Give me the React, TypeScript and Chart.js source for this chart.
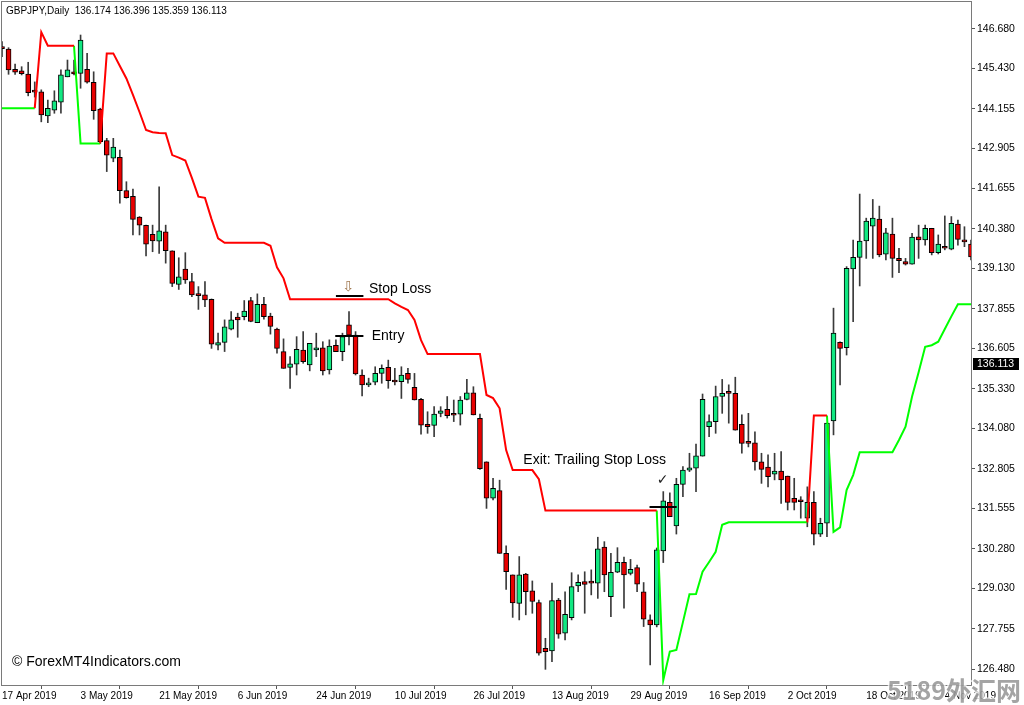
import React, { useEffect, useRef } from "react";
import { Chart, registerables } from "chart.js";

Chart.register(...registerables);

// ---- Daily GBPJPY candles (one entry per bar, left to right) ----
const OPEN = [
  146.09, 146.05, 145.41, 145.36, 145.26, 144.72, 144.70, 143.94, 144.12, 144.37,
  145.17, 145.33, 145.28, 145.41, 145.00, 144.15, 143.16, 142.60, 142.63, 141.58,
  141.40, 140.74, 140.48, 140.20, 139.98, 140.28, 139.68, 138.62, 139.10, 138.71,
  138.33, 138.29, 138.15, 136.70, 136.79, 137.21, 137.59, 137.60, 138.11, 137.41,
  137.99, 137.62, 137.21, 136.50, 136.00, 136.10, 136.55, 136.08, 136.55, 136.62,
  135.92, 136.70, 136.50, 137.34, 137.02, 135.76, 135.45, 135.53, 135.81, 136.00,
  135.60, 135.55, 135.81, 135.37, 134.99, 134.20, 134.17, 134.55, 134.68, 134.53,
  134.52, 134.99, 135.20, 134.39, 133.02, 131.87, 132.11, 130.13, 129.45, 128.55,
  129.48, 128.95, 128.58, 127.13, 127.05, 128.66, 127.61, 128.10, 129.10, 129.24,
  129.24, 129.19, 130.33, 128.76, 129.54, 129.85, 129.50, 129.68, 128.92, 128.03,
  127.87, 130.21, 131.74, 131.00, 132.31, 132.76, 132.82, 133.20, 134.13, 134.29,
  135.08, 135.20, 135.18, 134.20, 133.64, 133.62, 133.02, 132.85, 132.63, 132.73,
  132.57, 131.87, 131.78, 131.24, 131.74, 130.74, 131.08, 134.31, 136.79, 136.62,
  139.11, 139.47, 139.99, 140.46, 140.68, 139.57, 140.21, 139.44, 139.34, 139.26,
  140.12, 140.02, 140.39, 139.62, 139.79, 139.73, 140.52, 139.99, 139.89,
];
const HIGH = [
  146.28, 146.09, 145.57, 145.49, 145.63, 145.01, 144.76, 144.44, 144.73, 145.39,
  145.70, 145.70, 146.49, 145.91, 145.33, 144.18, 143.23, 143.23, 142.86, 141.86,
  141.63, 140.76, 140.49, 140.49, 141.70, 140.49, 139.68, 139.46, 139.62, 138.97,
  138.55, 138.71, 138.16, 137.08, 137.50, 137.76, 137.71, 138.11, 138.21, 138.32,
  138.21, 137.71, 137.24, 136.90, 136.34, 136.97, 137.13, 136.76, 137.08, 136.81,
  136.87, 136.87, 137.08, 137.76, 137.13, 135.92, 135.66, 136.02, 136.08, 136.23,
  135.97, 136.02, 135.97, 135.81, 135.02, 134.60, 134.76, 134.76, 135.08, 134.97,
  135.08, 135.62, 135.39, 134.53, 133.02, 132.50, 132.44, 130.37, 129.45, 130.03,
  129.50, 129.26, 128.66, 127.45, 129.19, 128.71, 128.92, 129.52, 129.45, 129.55,
  129.61, 130.64, 130.50, 130.13, 130.31, 130.01, 129.94, 129.76, 129.21, 128.19,
  130.30, 132.08, 132.04, 132.50, 132.87, 133.29, 133.58, 135.16, 134.50, 135.41,
  135.62, 135.45, 135.69, 134.50, 134.55, 133.97, 133.29, 133.24, 133.29, 133.34,
  132.57, 132.50, 131.92, 132.23, 132.08, 131.24, 134.24, 137.87, 136.81, 139.18,
  140.02, 141.47, 140.71, 141.30, 141.09, 140.39, 140.71, 139.76, 139.44, 140.23,
  140.49, 140.49, 140.39, 140.18, 140.78, 140.76, 140.65, 140.44, 140.02,
];
const LOW = [
  145.81, 145.25, 145.25, 145.23, 144.57, 144.53, 143.75, 143.72, 144.02, 144.02,
  145.17, 145.23, 144.81, 144.97, 143.83, 143.07, 142.18, 142.49, 141.18, 141.34,
  140.18, 140.18, 139.52, 139.65, 139.60, 139.29, 138.55, 138.46, 138.65, 138.23,
  137.83, 137.92, 136.60, 136.55, 136.50, 137.18, 136.95, 137.50, 137.44, 137.41,
  137.52, 137.05, 136.45, 135.97, 135.34, 135.76, 136.13, 135.89, 136.34, 135.76,
  135.79, 136.50, 136.21, 136.71, 135.76, 135.10, 135.39, 135.45, 135.50, 135.34,
  135.45, 135.02, 135.50, 134.97, 133.89, 133.92, 133.81, 134.44, 134.40, 134.29,
  134.18, 134.97, 134.50, 132.78, 131.55, 131.82, 130.13, 128.99, 128.11, 128.03,
  128.19, 128.24, 126.92, 126.47, 126.71, 127.45, 127.40, 128.03, 128.92, 128.24,
  128.82, 128.71, 128.92, 128.13, 129.52, 128.40, 129.45, 128.92, 127.82, 126.61,
  127.81, 129.84, 131.29, 130.74, 131.92, 132.71, 132.08, 133.20, 133.81, 133.92,
  134.55, 134.24, 134.02, 133.29, 133.49, 132.76, 132.34, 132.23, 132.45, 131.71,
  131.50, 131.50, 131.24, 130.97, 130.40, 130.66, 130.66, 133.87, 135.45, 136.39,
  137.44, 138.57, 139.44, 139.44, 139.49, 139.39, 138.84, 138.99, 139.23, 139.26,
  139.44, 139.86, 139.55, 139.58, 139.71, 139.71, 139.86, 139.81, 139.39,
];
const CLOSE = [
  146.06, 145.39, 145.32, 145.27, 144.67, 144.69, 143.97, 144.18, 144.41, 145.23,
  145.39, 145.26, 146.33, 145.00, 144.10, 143.12, 142.70, 142.95, 141.58, 141.36,
  140.67, 140.49, 139.89, 139.99, 140.31, 139.68, 138.65, 138.86, 138.76, 138.29,
  138.26, 138.13, 136.73, 136.78, 137.28, 137.50, 137.50, 137.78, 137.45, 137.99,
  137.60, 137.29, 136.60, 135.97, 136.11, 136.57, 136.18, 136.76, 136.62, 135.89,
  136.67, 136.50, 136.97, 137.02, 135.79, 135.45, 135.50, 135.81, 135.97, 135.58,
  135.54, 135.76, 135.62, 134.97, 134.18, 134.13, 134.53, 134.63, 134.48, 134.49,
  134.97, 135.20, 134.50, 132.80, 131.87, 132.18, 130.13, 129.55, 128.57, 129.45,
  128.92, 128.61, 126.98, 127.03, 128.64, 127.58, 128.21, 129.08, 129.22, 129.15,
  129.19, 130.27, 129.45, 129.53, 129.85, 129.45, 129.63, 129.16, 128.05, 127.87,
  130.24, 131.79, 131.29, 132.31, 132.76, 132.83, 133.21, 134.99, 134.29, 135.08,
  135.18, 135.18, 134.02, 133.60, 133.60, 133.02, 132.78, 132.55, 132.73, 132.45,
  131.74, 131.74, 131.76, 131.74, 130.74, 131.08, 134.24, 137.08, 136.60, 139.13,
  139.47, 139.99, 140.62, 140.71, 139.55, 140.25, 139.44, 139.37, 139.26, 140.11,
  140.02, 140.39, 139.62, 139.89, 139.76, 140.55, 140.04, 139.96, 139.49,
];

// ---- Trailing-stop indicator: runs of values, each starting at a bar index ----
const RED_STOP_RUNS = [
  { from: 5, values: [144.18, 146.58, 146.15, 146.15, 146.15, 146.15, 146.15] },
  {
    from: 15,
    values: [
      143.07, 145.91, 145.91, 145.51, 145.12, 144.60, 144.06, 143.49, 143.42, 143.40,
      143.39, 142.70, 142.62, 142.53, 141.98, 141.39, 141.35, 140.68, 140.07,
      139.93, 139.93, 139.93, 139.93, 139.93, 139.93, 139.93,
      139.84, 139.16, 138.81,
      138.15, 138.15, 138.15, 138.15, 138.15, 138.15, 138.15, 138.15,
      138.15, 138.15, 138.15, 138.15, 138.15, 138.15, 138.15, 138.15,
      138.02, 137.91, 137.81, 137.50, 136.86,
      136.42, 136.42, 136.42, 136.42, 136.42, 136.42, 136.42, 136.42, 136.42,
      135.13, 135.03, 134.71, 133.39,
      132.76, 132.76, 132.76, 132.76,
      132.47,
      131.48, 131.48, 131.48, 131.48, 131.48, 131.48, 131.48, 131.48, 131.48,
      131.48, 131.48, 131.48, 131.48, 131.48, 131.48, 131.48, 131.48, 131.48,
    ],
  },
  { from: 123, values: [131.11, 134.48, 134.48, 134.48] },
];
const GREEN_STOP_RUNS = [
  { from: 0, values: [144.18, 144.18, 144.18, 144.18, 144.18, 144.18] },
  { from: 11, values: [146.15, 143.07, 143.07, 143.07, 143.07] },
  {
    from: 100,
    values: [
      131.48, 126.13, 127.03, 127.08, 127.96, 128.84, 128.85, 129.55, 129.86, 130.18, 131.03,
      131.11, 131.11, 131.11, 131.11, 131.11, 131.11, 131.11, 131.11, 131.11, 131.11,
      131.11, 131.11, 131.11,
    ],
  },
  {
    from: 126,
    values: [
      134.48, 130.81, 130.95, 132.13, 132.60,
      133.32, 133.32, 133.32, 133.32, 133.32, 133.32,
      133.71, 134.13, 135.08, 135.85, 136.65, 136.70, 136.81, 137.21, 137.61,
      137.99, 137.99, 137.99,
    ],
  },
];

// ---- Axis labels ----
const DATE_LABELS = [
  "17 Apr 2019", "3 May 2019", "21 May 2019", "6 Jun 2019", "24 Jun 2019",
  "10 Jul 2019", "26 Jul 2019", "13 Aug 2019", "29 Aug 2019", "16 Sep 2019",
  "2 Oct 2019", "18 Oct 2019", "4 Nov 2019",
];
const DATE_STEP = 12;
const PRICE_TICKS = [
  146.68, 145.43, 144.155, 142.905, 141.655, 140.38, 139.13, 137.855, 136.605,
  135.33, 134.08, 132.805, 131.555, 130.28, 129.03, 127.755, 126.48,
];
const Y_MIN = 125.976;
const Y_MAX = 147.532;

const TITLE = "GBPJPY,Daily  136.174 136.396 135.359 136.113";
const LAST_PRICE = 136.113;
const COPYRIGHT = "\u00A9 ForexMT4Indicators.com";
const WATERMARK = "5189外汇网";

// ---- Trade annotations (bar index, price) ----
const MARK_LINES = [
  { from: 51, to: 55.2, price: 138.25 },
  { from: 50.9, to: 55.2, price: 137.0 },
  { from: 98.9, to: 103.05, price: 131.6 },
];
const MARK_TEXTS = [
  { at: 56.05, price: 138.48, text: "Stop Loss" },
  { at: 56.47, price: 136.99, text: "Entry" },
  { at: 79.62, price: 133.08, text: "Exit: Trailing Stop Loss" },
];
const ARROW_MARK = { at: 52.85, price: 138.52 };
const CHECK_MARK = { at: 100.9, price: 132.45 };

const BARS = OPEN.map((_, i) => String(i));

function buildSeries(runs: { from: number; values: number[] }[]) {
  const out: (number | null)[] = BARS.map(() => null);
  runs.forEach((r) => r.values.forEach((v, k) => (out[r.from + k] = v)));
  return out;
}

const FONT = '"Liberation Sans", Arial, sans-serif';
const UP = "#12e882";
const DOWN = "#e80000";

const overlay = {
  id: "mt4overlay",
  afterDatasetsDraw(chart: any) {
    const { ctx, chartArea, scales } = chart;
    const xs = scales.x;
    const ys = scales.y;
    const px = (i: number) => xs.getPixelForValue(i);
    const py = (p: number) => ys.getPixelForValue(p);
    ctx.save();
    // frame
    ctx.strokeStyle = "#7a7a7a";
    ctx.lineWidth = 1;
    ctx.strokeRect(chartArea.left - 0.5, chartArea.top - 0.5, chartArea.width + 1, chartArea.height + 1);

    // trade lines
    ctx.strokeStyle = "#000";
    ctx.lineWidth = 2;
    MARK_LINES.forEach((l) => {
      ctx.beginPath();
      ctx.moveTo(px(l.from), Math.round(py(l.price)));
      ctx.lineTo(px(l.to), Math.round(py(l.price)));
      ctx.stroke();
    });
    ctx.fillStyle = "#000";
    ctx.textBaseline = "middle";
    ctx.textAlign = "left";
    ctx.font = `14px ${FONT}`;
    MARK_TEXTS.forEach((t) => ctx.fillText(t.text, px(t.at), py(t.price)));

    ctx.textAlign = "center";
    ctx.font = `14px "DejaVu Sans", sans-serif`;
    ctx.fillStyle = "#a07850";
    ctx.fillText("\u21E9", px(ARROW_MARK.at), py(ARROW_MARK.price));
    ctx.fillStyle = "#222";
    ctx.font = `14px "DejaVu Sans", sans-serif`;
    ctx.fillText("\u2713", px(CHECK_MARK.at), py(CHECK_MARK.price));

    // title
    ctx.textAlign = "left";
    ctx.fillStyle = "#000";
    ctx.font = `10px ${FONT}`;
    ctx.fillText(TITLE, 6, 11);

    // copyright
    ctx.font = `14px ${FONT}`;
    ctx.fillText(COPYRIGHT, 12, 662);

    // last price box
    const yl = Math.round(py(LAST_PRICE));
    ctx.fillStyle = "#000";
    ctx.fillRect(chartArea.right + 2, yl - 6, 46, 12);
    ctx.fillStyle = "#fff";
    ctx.font = `10.5px ${FONT}`;
    ctx.fillText(LAST_PRICE.toFixed(3), chartArea.right + 6, yl + 0.5);
    ctx.restore();
  },
  afterDraw(chart: any) {
    const { ctx } = chart;
    ctx.save();
    ctx.font = `bold 25px "Noto Sans CJK SC", sans-serif`;
    ctx.textBaseline = "alphabetic";
    ctx.textAlign = "left";
    ctx.lineWidth = 3;
    ctx.strokeStyle = "rgba(255,255,255,0.75)";
    ctx.strokeText(WATERMARK, 887, 700);
    ctx.fillStyle = "rgba(125,125,125,0.7)";
    ctx.fillText(WATERMARK, 887, 700);
    ctx.restore();
  },
};

export default function App() {
  const ref = useRef<HTMLCanvasElement>(null);
  useEffect(() => {
    const canvas = ref.current;
    if (!canvas) return;
    document.body.style.margin = "0";
    const bodies = OPEN.map((o, i) => [o, CLOSE[i]]);
    const wicks = LOW.map((l, i) => [l, HIGH[i]]);
    const bodyColors = OPEN.map((o, i) => (CLOSE[i] >= o ? UP : DOWN));
    const chart = new Chart(canvas, {
      type: "bar",
      data: {
        labels: BARS,
        datasets: [
          {
            type: "line",
            label: "red stop",
            data: buildSeries(RED_STOP_RUNS),
            borderColor: "#ff0000",
            borderWidth: 2,
            pointRadius: 0,
            spanGaps: false,
            tension: 0,
            order: 0,
          } as any,
          {
            type: "line",
            label: "green stop",
            data: buildSeries(GREEN_STOP_RUNS),
            borderColor: "#00ff00",
            borderWidth: 2,
            pointRadius: 0,
            spanGaps: false,
            tension: 0,
            order: 0,
          } as any,
          {
            type: "bar",
            label: "body",
            data: bodies,
            backgroundColor: bodyColors,
            borderColor: "#000",
            borderWidth: 1,
            borderSkipped: false,
            barThickness: 5,
            grouped: false,
            minBarLength: 2,
            order: 1,
          } as any,
          {
            type: "bar",
            label: "wick",
            data: wicks,
            backgroundColor: "#3a3a3a",
            borderWidth: 0,
            barThickness: 1,
            grouped: false,
            order: 2,
          } as any,
        ],
      },
      options: {
        responsive: false,
        animation: false,
        devicePixelRatio: 1,
        events: [],
        layout: { padding: { left: 2, top: 2, right: 0, bottom: 0 } },
        plugins: { legend: { display: false }, tooltip: { enabled: false } },
        scales: {
          x: {
            type: "category",
            offset: false,
            grid: { display: true, drawOnChartArea: false, drawTicks: true, tickLength: 4, color: "#555" },
            border: { display: false },
            ticks: {
              autoSkip: false,
              maxRotation: 0,
              minRotation: 0,
              align: "start",
              padding: 1,
              color: "#000",
              font: { family: FONT, size: 10 },
              callback: (v: any) => DATE_LABELS[Number(v) / DATE_STEP] ?? "",
            },
            afterBuildTicks: (s: any) => {
              s.ticks = s.ticks.filter((t: any) => t.value % DATE_STEP === 0);
            },
            afterFit: (s: any) => {
              s.height = 20;
              s.paddingLeft = 0;
              s.paddingRight = 0;
            },
          },
          y: {
            type: "linear",
            position: "right",
            min: Y_MIN,
            max: Y_MAX,
            bounds: "data",
            grid: { display: true, drawOnChartArea: false, drawTicks: true, tickLength: 4, color: "#555" },
            border: { display: false },
            ticks: {
              autoSkip: false,
              padding: 2,
              color: "#000",
              font: { family: FONT, size: 10.5 },
              callback: (v: any) => Number(v).toFixed(3),
            },
            afterBuildTicks: (s: any) => {
              s.ticks = PRICE_TICKS.map((v) => ({ value: v }));
            },
            afterFit: (s: any) => {
              s.width = 53;
              s.paddingTop = 0;
              s.paddingBottom = 0;
            },
          },
        },
      } as any,
      plugins: [overlay as any],
    });
    return () => chart.destroy();
  }, []);
  return (
    <div style={{ position: "fixed", left: 0, top: 0, width: 1024, height: 705, background: "#fff" }}>
      <canvas ref={ref} width={1024} height={705} style={{ display: "block" }} />
    </div>
  );
}
